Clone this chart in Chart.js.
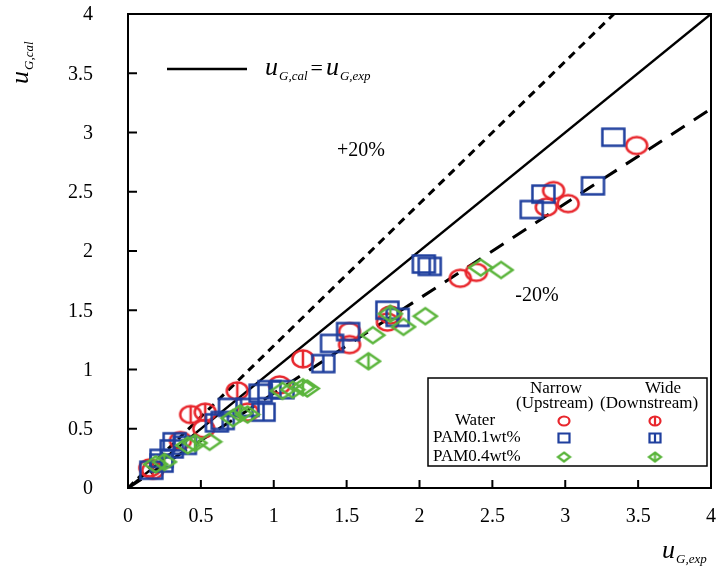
<!DOCTYPE html>
<html>
<head>
<meta charset="utf-8">
<script src="https://cdn.jsdelivr.net/npm/chart.js@4"></script>
<style>
  html, body { margin: 0; padding: 0; background: #fff; }
  #wrap { width: 716px; height: 574px; }
</style>
</head>
<body>
<div id="wrap"><canvas id="chart" width="716" height="574"></canvas></div>
<script>
// ---- data ----
const xTicks = [0, 0.5, 1, 1.5, 2, 2.5, 3, 3.5, 4];
const yTicks = [0, 0.5, 1, 1.5, 2, 2.5, 3, 3.5, 4];
const refX = [0, 4];
const refRatios = [1, 1.2, 0.8];

const waterNarrow = [[0.15,0.17],[0.36,0.40],[0.52,0.50],[0.82,0.64],[1.04,0.87],[1.52,1.21],[1.52,1.32],[1.78,1.40],[1.80,1.46],[2.28,1.77],[2.39,1.82],[2.87,2.37],[2.92,2.51],[3.02,2.40],[3.49,2.89]];
const waterWide = [[0.17,0.15],[0.43,0.62],[0.53,0.64],[0.75,0.82],[1.20,1.09]];
const pam01Narrow = [[0.16,0.15],[0.23,0.21],[0.30,0.33],[0.39,0.36],[0.61,0.55],[0.70,0.68],[0.82,0.68],[0.91,0.80],[1.06,0.83],[1.40,1.22],[1.51,1.32],[1.78,1.50],[2.03,1.89],[2.77,2.35],[2.85,2.48],[3.19,2.55],[3.33,2.96]];
const pam01Wide = [[0.23,0.25],[0.32,0.39],[0.65,0.57],[0.93,0.64],[0.97,0.83],[1.34,1.05],[1.85,1.44],[2.07,1.87]];
const pam04Narrow = [[0.19,0.20],[0.41,0.36],[0.56,0.39],[0.72,0.59],[0.82,0.62],[1.06,0.82],[1.13,0.83],[1.23,0.84],[1.68,1.29],[1.89,1.36],[2.04,1.45],[2.42,1.86],[2.56,1.84]];
const pam04Wide = [[0.25,0.22],[0.46,0.38],[0.77,0.63],[1.20,0.85],[1.65,1.07],[1.80,1.47]];

const RED = '#e8262c', BLUE = '#1f3f9e', GREEN = '#5bb53c';
const SERIF = '"Liberation Serif", "DejaVu Serif", serif';

// marker images (open ellipse / rect / diamond, "wide" ones get a vertical bar)
function makeMarker(shape, color, w, h, bar, lw) {
    const c = document.createElement('canvas');
    c.width = w + 5; c.height = h + 5;
    const g = c.getContext('2d');
    const cx = c.width / 2, cy = c.height / 2;
    g.strokeStyle = color;
    g.lineWidth = lw;
    g.beginPath();
    if (shape === 'circle') {
        g.ellipse(cx, cy, w / 2, h / 2, 0, 0, Math.PI * 2);
    } else if (shape === 'rect') {
        g.rect(cx - w / 2, cy - h / 2, w, h);
    } else {
        g.moveTo(cx, cy - h / 2);
        g.lineTo(cx + w / 2, cy);
        g.lineTo(cx, cy + h / 2);
        g.lineTo(cx - w / 2, cy);
        g.closePath();
    }
    g.stroke();
    if (bar) {
        g.beginPath();
        g.moveTo(cx, cy - h / 2);
        g.lineTo(cx, cy + h / 2);
        g.stroke();
    }
    return c;
}

const big = {
    circle: [21, 17], rect: [22, 17], diamond: [23, 16]
};
const small = {
    circle: [11, 9], rect: [11, 9], diamond: [12, 9]
};

const seriesDefs = [
    { data: pam04Narrow, shape: 'diamond', color: GREEN, bar: false },
    { data: pam04Wide, shape: 'diamond', color: GREEN, bar: true },
    { data: pam01Narrow, shape: 'rect', color: BLUE, bar: false },
    { data: pam01Wide, shape: 'rect', color: BLUE, bar: true },
    { data: waterNarrow, shape: 'circle', color: RED, bar: false },
    { data: waterWide, shape: 'circle', color: RED, bar: true }
];

const toPts = arr => arr.map(p => ({ x: p[0], y: p[1] }));

const datasets = seriesDefs.map(s => ({
    type: 'scatter',
    data: toPts(s.data),
    pointStyle: makeMarker(s.shape, s.color, big[s.shape][0], big[s.shape][1], s.bar, 2.5),
    pointRadius: 10,
    borderColor: s.color,
    backgroundColor: 'transparent'
}));

const lineStyles = [
    { width: 2.5, dash: [] },
    { width: 3, dash: [8, 6] },
    { width: 3, dash: [16, 11] }
];
refRatios.forEach((r, i) => {
    datasets.push({
        type: 'line',
        data: refX.map(x => ({ x: x, y: x * r })),
        borderColor: '#000',
        borderWidth: lineStyles[i].width,
        borderDash: lineStyles[i].dash,
        pointRadius: 0,
        fill: false,
        order: 10
    });
});

// u with italic subscript
function drawSub(ctx, x, y, main, sub) {
    ctx.font = 'italic 26px ' + SERIF;
    ctx.textAlign = 'left';
    ctx.textBaseline = 'alphabetic';
    ctx.fillText(main, x, y);
    const w = ctx.measureText(main).width;
    ctx.font = 'italic 13px ' + SERIF;
    ctx.fillText(sub, x + w + 1, y + 5);
    return w + 1 + ctx.measureText(sub).width;
}

const decorPlugin = {
    id: 'decor',
    afterDraw(chart) {
        const ctx = chart.ctx;
        const a = chart.chartArea;
        const xs = chart.scales.x, ys = chart.scales.y;
        ctx.save();
        ctx.fillStyle = '#000';
        ctx.strokeStyle = '#000';

        // frame
        ctx.lineWidth = 2;
        ctx.strokeRect(a.left, a.top, a.right - a.left, a.bottom - a.top);

        // inward ticks + labels
        ctx.font = '20px ' + SERIF;
        ctx.textBaseline = 'middle';
        xTicks.forEach(v => {
            const px = xs.getPixelForValue(v);
            ctx.beginPath();
            ctx.moveTo(px, a.bottom);
            ctx.lineTo(px, a.bottom - 8);
            ctx.stroke();
            ctx.textAlign = 'center';
            ctx.fillText(String(v), px, 517);
        });
        yTicks.forEach(v => {
            const py = ys.getPixelForValue(v);
            ctx.beginPath();
            ctx.moveTo(a.left, py);
            ctx.lineTo(a.left + 9, py);
            ctx.stroke();
            ctx.textAlign = 'right';
            ctx.fillText(String(v), 93, py + 1);
        });

        // axis titles
        drawSub(ctx, 662, 558, 'u', 'G,exp');
        ctx.save();
        ctx.translate(28, 84);
        ctx.rotate(-Math.PI / 2);
        drawSub(ctx, 0, 0, 'u', 'G,cal');
        ctx.restore();

        // top-left line legend
        ctx.lineWidth = 2.5;
        ctx.beginPath();
        ctx.moveTo(167, 69);
        ctx.lineTo(247, 69);
        ctx.stroke();
        let w = drawSub(ctx, 265, 75, 'u', 'G,cal');
        ctx.font = '22px ' + SERIF;
        ctx.fillText('=', 265 + w + 3, 75);
        const eqW = ctx.measureText('=').width;
        drawSub(ctx, 265 + w + 6 + eqW, 75, 'u', 'G,exp');

        // percent labels
        ctx.font = '20px ' + SERIF;
        ctx.textAlign = 'center';
        ctx.textBaseline = 'middle';
        ctx.fillText('+20%', 361, 151);
        ctx.fillText('-20%', 537, 296);

        // marker legend box
        const bx = 428, by = 378, bw = 279, bh = 88;
        ctx.fillStyle = '#fff';
        ctx.fillRect(bx, by, bw, bh);
        ctx.fillStyle = '#000';
        ctx.lineWidth = 1.5;
        ctx.strokeRect(bx, by, bw, bh);
        ctx.font = '17px ' + SERIF;
        ctx.textAlign = 'center';
        const colN = 556, colW = 655;
        ctx.fillText('Narrow', colN, 389);
        ctx.fillText('Wide', 663, 389);
        ctx.textAlign = 'left';
        ctx.fillText('(Upstream)', 516, 404);
        ctx.fillText('(Downstream)', 600, 404);
        const rows = [
            { label: 'Water', shape: 'circle', color: RED, y: 421 },
            { label: 'PAM0.1wt%', shape: 'rect', color: BLUE, y: 438 },
            { label: 'PAM0.4wt%', shape: 'diamond', color: GREEN, y: 457 }
        ];
        rows.forEach((r, i) => {
            ctx.textAlign = i === 0 ? 'center' : 'left';
            ctx.fillText(r.label, i === 0 ? 475 : 433, r.y);
            const s = small[r.shape];
            const m1 = makeMarker(r.shape, r.color, s[0], s[1], false, 2.2);
            const m2 = makeMarker(r.shape, r.color, s[0], s[1], true, 2.2);
            ctx.drawImage(m1, 564 - m1.width / 2, r.y - m1.height / 2);
            ctx.drawImage(m2, colW - m2.width / 2, r.y - m2.height / 2);
        });
        ctx.restore();
    }
};

new Chart(document.getElementById('chart'), {
    type: 'scatter',
    data: { datasets: datasets },
    options: {
        responsive: false,
        animation: false,
        layout: { autoPadding: false, padding: { top: 14, right: 5, left: 0, bottom: 0 } },
        plugins: { legend: { display: false }, tooltip: { enabled: false } },
        scales: {
            x: {
                type: 'linear', min: 0, max: 4,
                grid: { display: false },
                border: { display: false },
                ticks: { display: false },
                afterFit: s => { s.height = 86; }
            },
            y: {
                type: 'linear', min: 0, max: 4,
                grid: { display: false },
                border: { display: false },
                ticks: { display: false },
                afterFit: s => { s.width = 128; }
            }
        }
    },
    plugins: [decorPlugin]
});
</script>
</body>
</html>
